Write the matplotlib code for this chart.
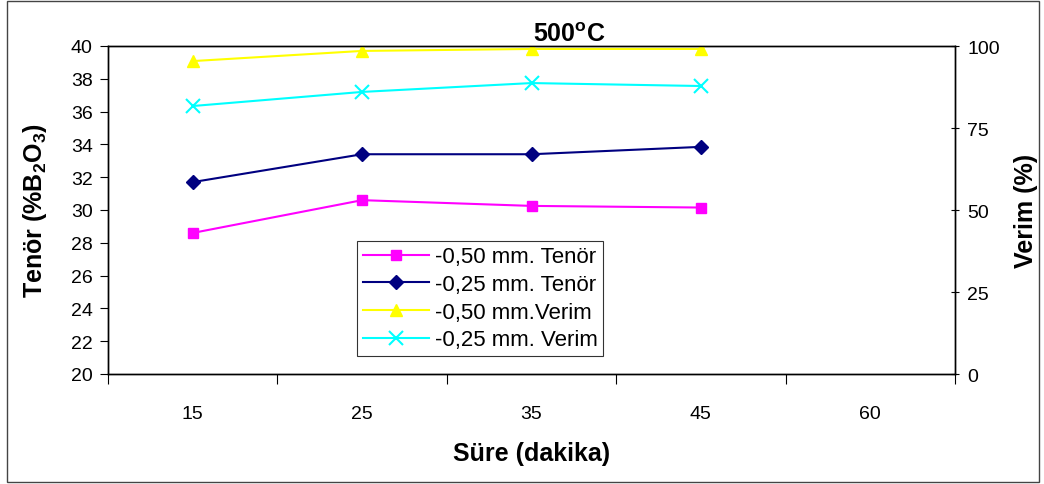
import matplotlib.pyplot as plt
import matplotlib.patches as mpatches
import numpy as np

plt.rcParams['font.family'] = ['Liberation Sans', 'DejaVu Sans']

# sure (dakika) kategorileri
sureler = ["15", "25", "35", "45", "60"]

# tenor (%B2O3), sol eksen
tenor_050 = [28.6, 30.6, 30.25, 30.15]
tenor_025 = [31.7, 33.4, 33.4, 33.85]

# verim (%), sag eksen
verim_050 = [95.4, 98.5, 99.1, 99.1]
verim_025 = [81.7, 86.0, 88.7, 87.8]

x = np.arange(len(sureler))
xd = x[:len(tenor_050)]

fig = plt.figure(figsize=(10.44, 4.85), dpi=100)
ax1 = fig.add_axes([108/1044, 1 - 375/485, 847/1044, 328/485])
ax2 = ax1.twinx()

l1, = ax1.plot(xd, tenor_050, '-s', color='#ff00ff', markersize=7.5, lw=1.5, label='-0,50 mm. Tenör')
l2, = ax1.plot(xd, tenor_025, '-D', color='#000080', markersize=7, lw=1.5, label='-0,25 mm. Tenör')
l3, = ax2.plot(xd, verim_050, '-^', color='#ffff00', markersize=9, lw=1.5, label='-0,50 mm.Verim')
l4, = ax2.plot(xd, verim_025, '-x', color='#00ffff', markersize=10, mew=1.5, lw=1.5, label='-0,25 mm. Verim')

ax1.set_xlim(-0.5, len(sureler) - 0.5)
ax1.set_ylim(20, 40)
ax1.set_yticks(np.arange(20, 41, 2))
ax2.set_ylim(0, 100)
ax2.set_yticks([0, 25, 50, 75, 100])

# kategori etiketleri ortada, tikler aralarda
ax1.set_xticks(x)
ax1.set_xticklabels(sureler, fontsize=14)
ax1.set_xticks(np.arange(-0.5, len(sureler), 1), minor=True)
ax1.tick_params(axis='x', which='major', length=0, pad=22)
ax1.tick_params(axis='x', which='minor', length=7, direction='out', width=0.8)
ax1.tick_params(axis='y', labelsize=14, length=6, direction='out', width=0.8, pad=5)
ax2.tick_params(axis='y', labelsize=14, length=6, direction='inout', width=0.8, pad=6)

for ax in (ax1, ax2):
    for s in ax.spines.values():
        s.set_linewidth(1.0)

ax1.set_xlabel('Süre (dakika)', fontsize=18, fontweight='bold', labelpad=14)
ax1.set_ylabel('Tenör (%B$_\\mathregular{2}$O$_\\mathregular{3}$)', fontsize=18, fontweight='bold', labelpad=16)
ax2.set_ylabel('Verim (%)', fontsize=18, fontweight='bold', labelpad=10)

ax1.text(0.545, 1.0, '500$^\\mathregular{o}$C', transform=ax1.transAxes, ha='center', va='bottom',
         fontsize=18, fontweight='bold')

leg = ax2.legend(handles=[l1, l2, l3, l4], loc='lower left', bbox_to_anchor=(0.294, 0.055),
                 fontsize=16, frameon=True, fancybox=False, handlelength=3.0,
                 borderpad=0.25, labelspacing=0.3, handletextpad=0.25, borderaxespad=0)
leg.get_frame().set_edgecolor('black')
leg.get_frame().set_linewidth(0.8)

# dis cerceve
fig.patches.append(mpatches.Rectangle((7/1044, 0.004), 1032/1044, 0.992, transform=fig.transFigure,
                                      fill=False, edgecolor='#444444', linewidth=1.0))

fig.savefig('out.png', dpi=100)
